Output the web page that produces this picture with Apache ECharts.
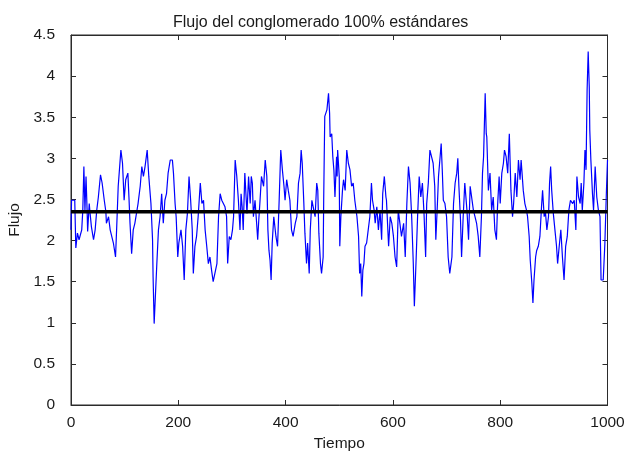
<!DOCTYPE html>
<html>
<head>
<meta charset="utf-8">
<script src="https://cdn.jsdelivr.net/npm/echarts@6/dist/echarts.min.js"></script>
<style>
html,body{margin:0;padding:0;background:#fff;}
#chart{width:625px;height:452px;}
</style>
</head>
<body>
<div id="chart"></div>
<script>
const titulo = 'Flujo del conglomerado 100% estándares';
const nombreX = 'Tiempo';
const nombreY = 'Flujo';
const mediaFlujo = 2.35;
const tiempo = [
0,1,7,9,12,15,20,22,24,26,28,30,31,34,35,38,42,45,48,51,55,58,62,65,66,70,73,79,83,85,88,93,96,99,102,106,108,110,113,116,119,125,129,132,135,138,142,145,149,152,153,155,
160,163,166,169,172,175,178,181,185,189,191,194,196,199,201,205,208,211,214,217,220,223,226,228,231,234,237,241,244,247,250,253,256,259,262,265,268,272,275,278,281,284,287,290,292,295,298,301,303,306,309,312,315,317,319,321,324,328,331,
334,336,338,340,343,346,348,350,352,355,359,362,365,367,369,371,373,375,378,382,385,388,390,391,394,397,399,402,405,408,411,414,418,421,424,427,429,431,434,436,439,441,444,446,449,452,455,458,460,462,465,467,470,471,472,473,477,480,482,483,486,488,490,492,
495,496,497,500,501,503,506,508,511,514,517,520,523,526,529,533,536,538,540,542,544,546,548,551,554,557,560,562,565,567,570,573,576,579,581,584,587,588,592,595,598,601,604,607,610,613,616,620,623,626,629,632,635,638,640,643,646,649,652,655,658,661,
663,666,669,672,675,678,680,683,685,688,690,692,694,697,700,703,706,710,713,716,719,721,723,726,728,731,734,738,741,744,747,750,753,756,759,762,765,767,769,772,774,775,778,781,784,787,790,793,795,798,800,803,806,808,811,814,817,820,823,825,828,
831,834,837,839,841,843,846,849,851,854,856,859,861,863,866,868,871,874,877,879,882,884,887,890,892,894,896,899,902,905,907,910,913,916,919,922,925,928,931,935,938,941,943,946,949,951,953,956,958,960,962,964,966,967,969,972,974,977,980,983,986,988,992,995,998,1000
];
const flujo = [
2.13,2.49,2.49,1.91,2.09,2.01,2.13,2.37,2.90,2.37,2.78,2.37,2.11,2.45,2.37,2.17,2.01,2.13,2.37,2.53,2.80,2.70,2.49,2.35,2.21,2.29,2.13,1.97,1.80,2.13,2.66,3.10,2.94,2.49,2.74,2.82,2.53,2.21,1.84,2.13,2.21,2.45,2.66,2.90,2.78,2.90,3.10,2.78,2.45,2.01,1.56,0.99,
1.72,2.13,2.29,2.57,2.21,2.49,2.57,2.82,2.98,2.98,2.82,2.45,2.29,1.80,1.97,2.13,1.93,1.52,2.13,2.33,2.78,2.49,2.13,1.60,1.93,2.05,2.29,2.70,2.45,2.49,2.13,1.93,1.72,1.80,1.64,1.50,1.50,1.72,2.29,2.57,2.49,2.49,2.41,2.29,1.72,2.05,2.01,2.13,2.29,2.98,2.78,2.49,2.13,2.57,2.41,2.13,2.82,2.33,2.78,
2.45,2.78,2.70,2.29,2.49,2.21,2.01,2.25,2.45,2.78,2.66,2.98,2.78,2.13,1.88,1.76,1.52,1.97,2.29,2.05,1.93,2.49,2.90,3.10,2.86,2.66,2.49,2.74,2.61,2.49,2.13,2.05,2.21,2.29,2.70,2.82,3.10,2.94,2.45,2.09,1.72,1.97,1.60,2.13,2.49,2.49,2.29,2.70,2.61,2.09,1.72,1.60,1.80,2.49,3.02,3.51,3.59,3.79,3.55,3.26,3.30,3.02,2.86,2.53,
3.02,2.78,3.10,2.78,1.93,2.29,2.61,2.74,2.61,3.10,2.94,2.86,2.66,2.70,2.49,2.29,2.05,1.60,1.72,1.32,1.64,1.72,1.93,1.97,2.13,2.29,2.70,2.49,2.37,2.21,2.41,2.13,2.37,2.01,2.57,2.78,2.53,2.49,1.93,2.29,2.21,2.05,1.80,1.68,2.37,2.37,2.05,2.21,1.80,2.45,2.90,2.70,2.29,1.72,1.20,1.72,2.29,2.78,2.53,2.70,2.33,1.80,
2.45,2.70,3.10,3.02,2.94,2.66,2.01,2.45,2.78,3.02,3.18,2.86,2.49,2.45,2.29,1.80,1.60,1.80,2.45,2.70,2.82,3.00,2.66,2.25,1.80,2.29,2.70,2.37,2.01,2.66,2.66,2.37,2.29,2.21,2.05,1.80,2.29,2.82,3.02,3.79,3.30,3.26,2.61,2.82,2.37,2.53,2.13,2.01,2.41,2.78,2.45,2.82,2.94,3.10,3.02,2.82,3.30,2.61,2.29,2.45,2.82,
2.53,2.98,2.74,2.98,2.98,2.61,2.45,2.37,2.29,2.05,1.76,1.48,1.24,1.52,1.80,1.88,1.93,2.05,2.41,2.61,2.29,2.37,2.13,2.29,2.70,2.90,2.61,2.33,2.13,1.93,1.72,1.93,2.13,1.80,1.52,1.93,2.05,2.37,2.49,2.45,2.49,2.13,2.78,2.53,2.45,2.70,2.37,2.70,3.10,2.86,3.83,4.30,3.87,3.34,2.98,2.57,2.37,2.90,2.53,2.37,2.29,1.52,1.52,1.95,2.60,2.98
];
const ticksX = [0, 200, 400, 600, 800, 1000];
const ticksY = [0, 0.5, 1, 1.5, 2, 2.5, 3, 3.5, 4, 4.5];

const serieFlujo = tiempo.map((t, i) => [t, flujo[i]]);
const serieMedia = [[ticksX[0], mediaFlujo], [ticksX[ticksX.length - 1], mediaFlujo]];

const FONT = 'Liberation Sans, Arial, sans-serif';
const AX = '#2b2b2b';
const TXT = '#1a1a1a';

const chart = echarts.init(document.getElementById('chart'), null, {renderer: 'canvas'});
const baseX = {
  type: 'value', min: ticksX[0], max: ticksX[ticksX.length - 1], interval: 200,
  axisLine: {show: true, onZero: false, lineStyle: {color: AX, width: 1}},
  axisTick: {show: true, inside: true, length: 5, lineStyle: {color: AX}},
  splitLine: {show: false}
};
const baseY = {
  type: 'value', min: ticksY[0], max: ticksY[ticksY.length - 1], interval: 0.5,
  axisLine: {show: true, onZero: false, lineStyle: {color: AX, width: 1}},
  axisTick: {show: true, inside: true, length: 5, lineStyle: {color: AX}},
  splitLine: {show: false}
};
chart.setOption({
  animation: false,
  backgroundColor: '#ffffff',
  title: {
    text: titulo, left: 173, top: 15, padding: 0,
    textStyle: {fontFamily: FONT, fontSize: 16, fontWeight: 'normal', color: TXT}
  },
  grid: {left: 71, right: 17.5, top: 35, bottom: 47, outerBoundsMode: 'none', containLabel: false,
    show: true, borderColor: AX, borderWidth: 1, backgroundColor: 'transparent'},
  xAxis: [
    Object.assign({}, baseX, {
      position: 'bottom',
      name: nombreX, nameLocation: 'middle', nameGap: 31,
      nameTextStyle: {fontFamily: FONT, fontSize: 15.5, color: TXT},
      axisLabel: {show: true, margin: 10, fontFamily: FONT, fontSize: 15.5, color: TXT,
        formatter: v => String(v)}
    }),
    Object.assign({}, baseX, {position: 'top', axisLabel: {show: false}})
  ],
  yAxis: [
    Object.assign({}, baseY, {
      position: 'left',
      name: nombreY, nameLocation: 'middle', nameGap: 48,
      nameTextStyle: {fontFamily: FONT, fontSize: 15.5, color: TXT},
      axisLabel: {show: true, margin: 16, fontFamily: FONT, fontSize: 15.5, color: TXT,
        formatter: v => String(v)}
    }),
    Object.assign({}, baseY, {position: 'right', axisLabel: {show: false}})
  ],
  series: [
    {
      type: 'line', data: serieFlujo, showSymbol: false, symbol: 'none',
      xAxisIndex: 0, yAxisIndex: 0,
      lineStyle: {color: '#0000ff', width: 1.2}, z: 2
    },
    {
      type: 'line', data: serieMedia, showSymbol: false, symbol: 'none',
      xAxisIndex: 1, yAxisIndex: 1,
      lineStyle: {color: '#000000', width: 3.5}, z: 3
    }
  ]
});
</script>
</body>
</html>
